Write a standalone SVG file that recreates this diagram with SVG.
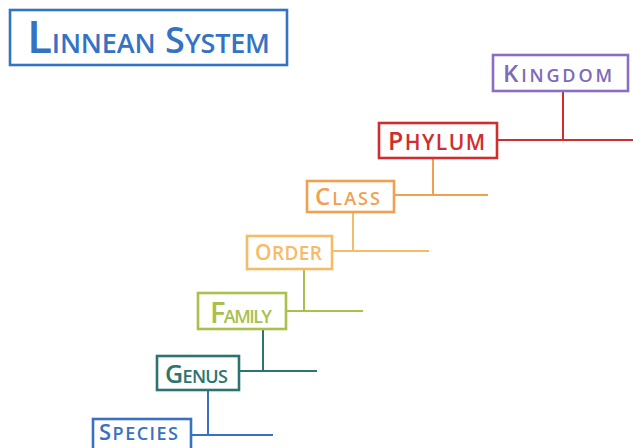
<svg xmlns="http://www.w3.org/2000/svg" width="633" height="448" viewBox="0 0 633 448">
<style>
.box{fill:#fff;stroke-width:2.6}
.lbl{font-family:"Open Sans","DejaVu Sans",sans-serif;font-weight:600;font-variant:small-caps}
.ln{fill:none;stroke-width:2}
</style>
<rect width="633" height="448" fill="#fff"/>
<g id="title">
<rect class="box" x="10" y="10" width="277" height="55" stroke="#3473c4" stroke-width="2.8"/>
<text class="lbl" x="27" y="53" fill="#3473c4" font-size="38" textLength="243" lengthAdjust="spacing"><tspan font-size="46">L</tspan>innean <tspan font-size="36">S</tspan>ystem</text>
</g>
<g id="connectors">
<path class="ln" stroke="#cf2e2e" d="M563 91V140M497 140H633"/>
<path class="ln" stroke="#f0a050" d="M433 158V195M394 195H488"/>
<path class="ln" stroke="#f5bb66" d="M353 212V251M332 251H429"/>
<path class="ln" stroke="#a9c04a" d="M304 269V311M286 311H363"/>
<path class="ln" stroke="#2d7470" d="M263 329V371M239 371H317"/>
<path class="ln" stroke="#3a70c0" d="M208 390V435M191 435H273"/>
</g>
<g id="kingdom">
<rect class="box" x="493" y="55" width="135" height="36" stroke="#8b6dc3"/>
<text class="lbl" x="503" y="82" fill="#7e6ab8" font-size="26" textLength="109" lengthAdjust="spacing"><tspan font-size="24">K</tspan>ingdom</text>
</g>
<g id="phylum">
<rect class="box" x="379" y="123" width="118" height="35" stroke="#cf2e2e"/>
<text class="lbl" x="388" y="150" fill="#cf2e2e" font-size="30" textLength="97" lengthAdjust="spacing"><tspan font-size="25">P</tspan>hylum</text>
</g>
<g id="class">
<rect class="box" x="307" y="181" width="87" height="31" stroke="#f0a050"/>
<text class="lbl" x="315" y="205" fill="#f0a050" font-size="26" textLength="65" lengthAdjust="spacing"><tspan font-size="24">C</tspan>lass</text>
</g>
<g id="order">
<rect class="box" x="247" y="236" width="85" height="33" stroke="#f5bb66"/>
<text class="lbl" x="255" y="260" fill="#f5bb66" font-size="27" textLength="67" lengthAdjust="spacing"><tspan font-size="21">O</tspan>rder</text>
</g>
<g id="family">
<rect class="box" x="198" y="293" width="88" height="36" stroke="#a9c04a"/>
<text class="lbl" x="210" y="323" fill="#a9c04a" font-size="26" textLength="62" lengthAdjust="spacing"><tspan font-size="29">F</tspan>amily</text>
</g>
<g id="genus">
<rect class="box" x="157" y="356" width="82" height="34" stroke="#2d7470"/>
<text class="lbl" x="165" y="383" fill="#2d7470" font-size="26" textLength="63" lengthAdjust="spacing"><tspan font-size="25">G</tspan>enus</text>
</g>
<g id="species">
<rect class="box" x="93" y="419" width="98" height="40" stroke="#3a70c0"/>
<text class="lbl" x="99" y="440" fill="#3a70c0" font-size="26" textLength="79" lengthAdjust="spacing"><tspan font-size="22">S</tspan>pecies</text>
</g>
</svg>
